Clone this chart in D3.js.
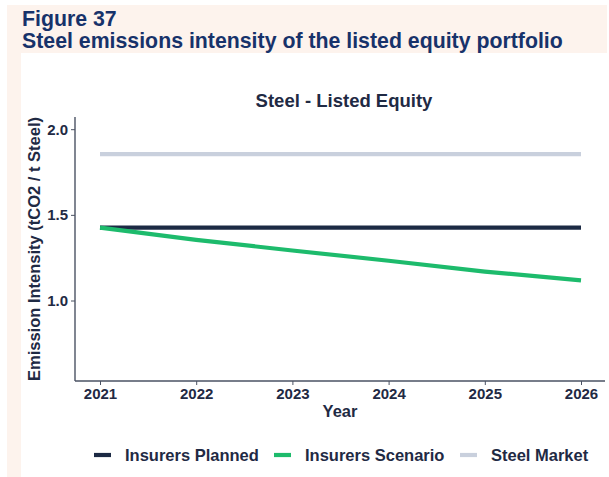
<!DOCTYPE html>
<html>
<head>
<meta charset="utf-8">
<script src="https://cdn.jsdelivr.net/npm/d3@7"></script>
<style>
  html, body { margin: 0; padding: 0; background: #ffffff; }
  svg { display: block; font-family: "Liberation Sans", Arial, sans-serif; }
</style>
</head>
<body>
<svg id="chart" width="609" height="477"></svg>
<script>
// Emission intensity (tCO2 / t steel) by year
const years = [2021, 2022, 2023, 2024, 2025, 2026];
const insurersPlanned = [1.425, 1.425, 1.425, 1.425, 1.425, 1.425];
const insurersScenario = [1.425, 1.354, 1.292, 1.232, 1.169, 1.117];
const steelMarket = [1.855, 1.855, 1.855, 1.855, 1.855, 1.855];
const yTicks = [1.0, 1.5, 2.0];

const seriesNames = ["Insurers Planned", "Insurers Scenario", "Steel Market"];
const seriesValues = [insurersPlanned, insurersScenario, steelMarket];
const seriesColors = ["#1c2a44", "#1dbb6c", "#c9d0dd"];

const svg = d3.select("#chart");
const W = 609, H = 477;

// Peach frame behind the heading and along the left edge
svg.append("rect").attr("x", 7).attr("y", 5).attr("width", W - 9).attr("height", 48).attr("fill", "#fdf3ed");
svg.append("rect").attr("x", 7).attr("y", 5).attr("width", 14).attr("height", H - 5).attr("fill", "#fdf3ed");

// Heading
const heading = svg.append("g").attr("fill", "#17326a").attr("font-weight", "bold").attr("font-size", 21.3);
heading.append("text").attr("x", 22).attr("y", 26).text("Figure 37");
heading.append("text").attr("x", 22).attr("y", 48).text("Steel emissions intensity of the listed equity portfolio");

// Plot area
const plotLeft = 75, plotRight = 605, plotTop = 117, plotBottom = 381;
const x = d3.scaleLinear().domain([2021, 2026]).range([100, 581]);
const y = d3.scaleLinear().domain([1.0, 2.0]).range([300.5, 129.2]);

const textColor = "#1f2a44";
const axisColor = "#4a5263";

svg.append("text")
  .attr("x", 344).attr("y", 107)
  .attr("text-anchor", "middle")
  .attr("font-weight", "bold").attr("font-size", 18.5)
  .attr("fill", textColor)
  .text("Steel - Listed Equity");

// Series lines
const line = d3.line().x((d, i) => x(years[i])).y(d => y(d));
[2, 0, 1].forEach(k => {
  svg.append("path")
    .datum(seriesValues[k])
    .attr("d", line)
    .attr("fill", "none")
    .attr("stroke", seriesColors[k])
    .attr("stroke-width", 4.2)
    .attr("stroke-linejoin", "round");
});

// Axes
const xAxis = svg.append("g").attr("transform", `translate(0,${plotBottom})`)
  .call(d3.axisBottom(x).tickValues(years).tickFormat(d3.format("d")).tickSize(4).tickPadding(3));
const yAxis = svg.append("g").attr("transform", `translate(${plotLeft},0)`)
  .call(d3.axisLeft(y).tickValues(yTicks).tickFormat(d3.format(".1f")).tickSize(4).tickPadding(3));

[xAxis, yAxis].forEach(g => {
  g.select(".domain").remove();
  g.selectAll(".tick line").attr("stroke", axisColor).attr("stroke-width", 1);
  g.selectAll(".tick text").attr("fill", textColor).attr("font-size", 15).attr("font-weight", "bold")
    .attr("font-family", "Liberation Sans, Arial, sans-serif");
});

svg.append("line").attr("x1", plotLeft).attr("x2", plotRight).attr("y1", plotBottom).attr("y2", plotBottom)
  .attr("stroke", axisColor).attr("stroke-width", 1.4);
svg.append("line").attr("x1", plotLeft).attr("x2", plotLeft).attr("y1", plotTop).attr("y2", plotBottom)
  .attr("stroke", axisColor).attr("stroke-width", 1.4);

// Axis titles
svg.append("text")
  .attr("x", 340).attr("y", 417)
  .attr("text-anchor", "middle")
  .attr("font-weight", "bold").attr("font-size", 16.5)
  .attr("fill", textColor)
  .text("Year");

svg.append("text")
  .attr("transform", `translate(40,${(plotTop + plotBottom) / 2}) rotate(-90)`)
  .attr("text-anchor", "middle")
  .attr("font-weight", "bold").attr("font-size", 16.5)
  .attr("fill", textColor)
  .text("Emission Intensity (tCO2 / t Steel)");

// Legend
const legendX = [94, 274, 460];
const legend = svg.append("g");
seriesNames.forEach((name, k) => {
  const g = legend.append("g").attr("transform", `translate(${legendX[k]},455)`);
  g.append("line").attr("x1", 0).attr("x2", 17).attr("y1", 0).attr("y2", 0)
    .attr("stroke", seriesColors[k]).attr("stroke-width", 4.2);
  g.append("text").attr("x", 31).attr("y", 6)
    .attr("font-weight", "bold").attr("font-size", 16.5)
    .attr("fill", textColor)
    .text(name);
});
</script>
</body>
</html>
